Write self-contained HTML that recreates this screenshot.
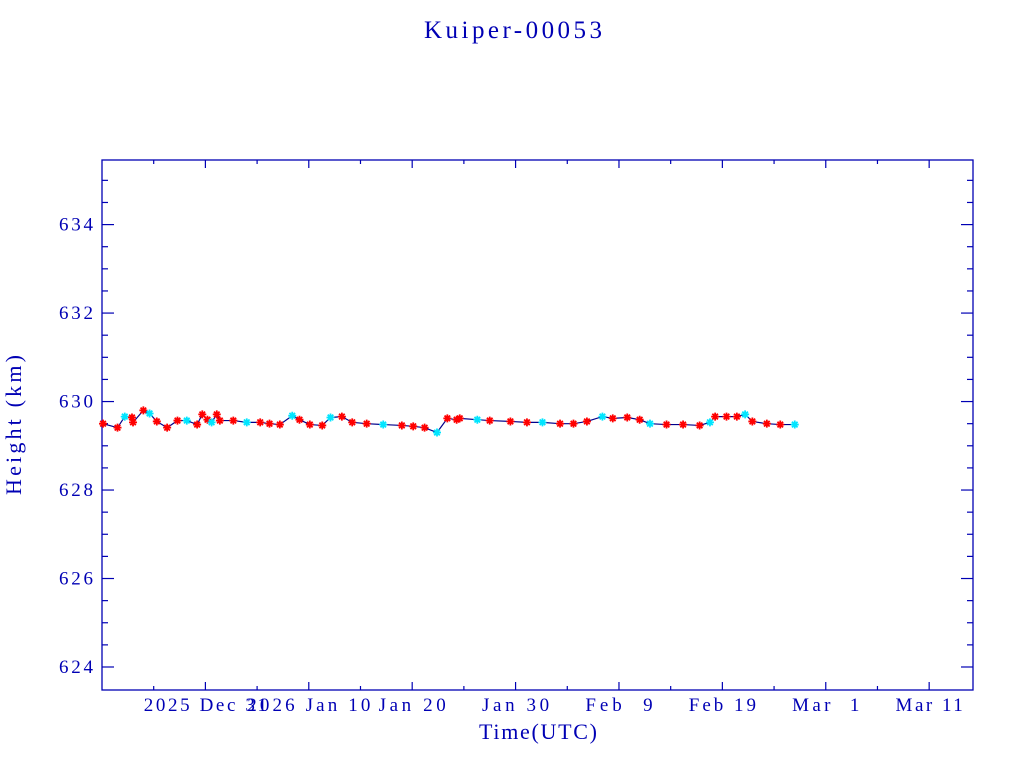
<!DOCTYPE html>
<html><head><meta charset="utf-8"><style>
body{margin:0;background:#fff;}
svg{display:block;font-family:"Liberation Serif",serif;fill:#0000b4;}
</style></head><body>
<svg id="chart" width="1024" height="768" viewBox="0 0 1024 768">
<text x="513" y="38" font-size="25" text-anchor="middle" textLength="178" lengthAdjust="spacing">Kuiper-00053</text>
<rect x="102" y="160" width="871" height="530" fill="none" stroke="#0000b4" stroke-width="1.3"/>
<g id="axes"></g>
<g id="series"></g>
<text x="538" y="739" font-size="22" text-anchor="middle" textLength="118" lengthAdjust="spacing">Time(UTC)</text>
<text transform="translate(21,425) rotate(-90)" font-size="22" text-anchor="middle" textLength="140" lengthAdjust="spacing">Height (km)</text>
</svg>
<script>
const days = [0.1,1.5,2.2,2.9,3.0,4.0,4.6,5.3,6.3,7.3,8.2,9.2,9.7,10.2,10.6,11.1,11.4,12.7,14.0,15.3,16.2,17.2,18.4,19.1,20.1,21.3,22.1,23.2,24.2,25.6,27.2,29.0,30.1,31.2,32.4,33.4,34.3,34.6,36.3,37.5,39.5,41.1,42.6,44.3,45.6,46.9,48.4,49.4,50.8,52.0,53.0,54.6,56.2,57.8,58.8,59.3,60.4,61.4,62.2,62.9,64.3,65.6,67.0];
const heights = [629.50,629.41,629.66,629.64,629.53,629.80,629.73,629.55,629.41,629.57,629.57,629.48,629.71,629.59,629.53,629.71,629.57,629.57,629.53,629.53,629.50,629.48,629.68,629.59,629.48,629.46,629.64,629.66,629.53,629.50,629.48,629.46,629.44,629.41,629.30,629.62,629.59,629.62,629.59,629.57,629.55,629.53,629.53,629.50,629.50,629.55,629.66,629.62,629.64,629.59,629.50,629.48,629.48,629.46,629.53,629.66,629.66,629.66,629.71,629.55,629.50,629.48,629.48];
const yTicks = [624,626,628,630,632,634];
const xTickDays = [10,20,30,40,50,60,70,80];
const xTickLabels = ["2025 Dec 31","2026 Jan 10","Jan 20","Jan 30","Feb  9","Feb 19","Mar  1","Mar 11"];
const NS="http://www.w3.org/2000/svg";
const X0=102,X1=973,Y0=690,Y1=160;
const xMin=0,xMax=84.24,yMin=623.48,yMax=635.46;
const xs=d=>X0+(d-xMin)/(xMax-xMin)*(X1-X0);
const ys=v=>Y0-(v-yMin)/(yMax-yMin)*(Y0-Y1);
const C="#0000b4";
const axes=document.getElementById('axes'),ser=document.getElementById('series');
function ln(g,x1,y1,x2,y2,c,w){const l=document.createElementNS(NS,'line');l.setAttribute('x1',x1);l.setAttribute('y1',y1);l.setAttribute('x2',x2);l.setAttribute('y2',y2);l.setAttribute('stroke',c);l.setAttribute('stroke-width',w||1.2);g.appendChild(l);return l;}
for(let v=624;v<=635.4;v+=0.5){const y=ys(v);const major=Math.abs(v-Math.round(v/2)*2)<1e-6;const L=major?12:6;
const a=ln(axes,X0,y,X0+L,y,C);
const b=ln(axes,X1,y,X1-L,y,C);}
yTicks.forEach(v=>{const t=document.createElementNS(NS,'text');t.setAttribute('x',X0-9);t.setAttribute('y',ys(v)+6);t.setAttribute('font-size','19');t.setAttribute('text-anchor','end');t.setAttribute('textLength','34');t.setAttribute('lengthAdjust','spacing');t.textContent=v;


axes.appendChild(t);});
for(let d=5;d<xMax;d+=5){const x=xs(d);const L=(d%10===0)?8:4;
const a=ln(axes,x,Y0,x,Y0-L,C);
const b=ln(axes,x,Y1,x,Y1+L,C);}
xTickDays.forEach((d,i)=>{const t=document.createElementNS(NS,'text');t.setAttribute('x',xs(d));t.setAttribute('y',711);t.setAttribute('font-size','19');t.setAttribute('text-anchor','middle');t.setAttribute('xml:space','preserve');t.style.whiteSpace='pre';t.setAttribute('textLength',String(xTickLabels[i].length*11.2));t.setAttribute('lengthAdjust','spacing');t.textContent=xTickLabels[i];


axes.appendChild(t);});
const pl=document.createElementNS(NS,'polyline');
pl.setAttribute('points',days.map((d,i)=>xs(d)+','+ys(heights[i])).join(' '));
pl.setAttribute('fill','none');pl.setAttribute('stroke','#00008b');pl.setAttribute('stroke-width','1.2');


ser.appendChild(pl);
days.forEach((d,i)=>{const x=xs(d),y=ys(heights[i]);const col=(i%4===2)?'#00e5ff':'#ff0000';
const p=document.createElementNS(NS,'path');const r=4;
p.setAttribute('d',`M${x-r},${y}H${x+r}M${x},${y-r}V${y+r}M${x-r*0.7},${y-r*0.7}L${x+r*0.7},${y+r*0.7}M${x-r*0.7},${y+r*0.7}L${x+r*0.7},${y-r*0.7}`);
p.setAttribute('stroke',col);p.setAttribute('stroke-width','1.8');


ser.appendChild(p);});
</script>
</body></html>
